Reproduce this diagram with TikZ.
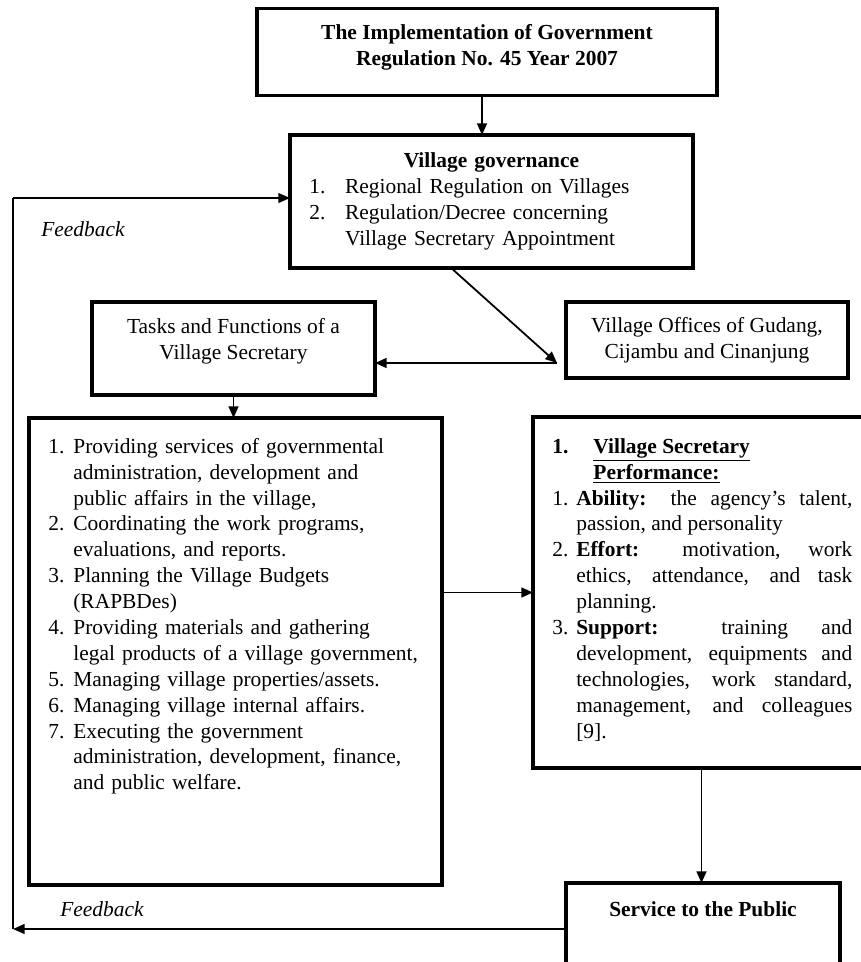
\documentclass[tikz,border=0pt,12pt]{standalone}
\usepackage{fontspec}
\setmainfont{Liberation Serif}
\usetikzlibrary{arrows.meta, calc}

\newcommand{\listitem}[3]{\par\noindent\hangindent=#1\hangafter=1\makebox[#1][l]{#2}#3}

\begin{document}
\begin{tikzpicture}[
  x=0.56pt, y=-0.56pt,
  box/.style={draw, line width=2pt, inner sep=0pt, outer sep=0pt, align=center},
  listtext/.style={anchor=north west, inner sep=0pt, text width=#1},
  arr/.style={-{Triangle[length=6.5pt, width=5.5pt]}, line width=1pt},
  fbline/.style={line width=0.7pt},
  fblabel/.style={font=\itshape}
]
\useasboundingbox (0,0) rectangle (861,962);
\clip (0,0) rectangle (861,962);
\node[box, minimum width=257.6pt, minimum height=48.7pt, font=\bfseries] (impl) at (487,52) {};
\node[font=\bfseries, align=center] (impltext) at (487,47)
  {The Implementation of Government\\Regulation No. 45 Year 2007};
\node[box, minimum width=225.7pt, minimum height=74.5pt, text width=204pt, align=left] (gov) at (491.5,201.5)
  {{\centering\bfseries Village governance\par}%
   \listitem{20pt}{1.}{Regional Regulation on Villages}%
   \listitem{20pt}{2.}{Regulation/Decree concerning\newline Village Secretary Appointment}\par};
\node[box, minimum width=158.5pt, minimum height=52.1pt] (tasks) at (233.5,348.5) {};
\node[align=center] (taskstext) at (233.5,341)
  {Tasks and Functions of a\\Village Secretary};
\node[box, minimum width=157.9pt, minimum height=42.6pt] (offices) at (707,340)
  {Village Offices of Gudang,\\Cijambu and Cinanjung};
\node[box, minimum width=231.3pt, minimum height=261.5pt] (duties) at (235.5,651.5) {};
\node[listtext=215pt, align=left] (dutiestext) at (48,427)
  {\listitem{14pt}{1.}{Providing services of governmental\newline administration, development and\newline public affairs in the village,}%
   \listitem{14pt}{2.}{Coordinating the work programs,\newline evaluations, and reports.}%
   \listitem{14pt}{3.}{Planning the Village Budgets\newline (RAPBDes)}%
   \listitem{14pt}{4.}{Providing materials and gathering\newline legal products of a village government,}%
   \listitem{14pt}{5.}{Managing village properties/assets.}%
   \listitem{14pt}{6.}{Managing village internal affairs.}%
   \listitem{14pt}{7.}{Executing the government\newline administration, development, finance,\newline and public welfare.}\par};
\node[box, minimum width=188.7pt, minimum height=196.6pt] (perf) at (701.5,592.5) {};
\node[listtext=168pt, align=justify] (perftext) at (552,427)
  {{\bfseries\listitem{23pt}{1.}{\underline{Village Secretary}\newline\underline{Performance:}}\par}%
   \listitem{13.4pt}{1.}{\textbf{Ability:} the agency's talent,\linebreak passion, and personality}%
   \listitem{13.4pt}{2.}{\textbf{Effort:} motivation, work\linebreak ethics, attendance, and task\linebreak planning.}%
   \listitem{13.4pt}{3.}{\textbf{Support:} training and\linebreak development, equipments and\linebreak technologies, work standard,\linebreak management, and colleagues\linebreak{}[9].}\par};
\node[box, minimum width=153.4pt, minimum height=51.5pt] (service) at (703,929) {};
\node[font=\bfseries] (servicetext) at (703,909) {Service to the Public};
\node[fblabel] (fbtoplabel) at (83,229) {Feedback};
\node[fblabel] (fbbotlabel) at (102,909) {Feedback};
\coordinate (fbcorner) at (13,929);
\coordinate (fbtop) at (13,198);
\coordinate (offtip) at (557,363);
\draw[arr] ([xshift=-2.8pt]impl.south) -- ([xshift=-2.8pt]impl.south |- gov.north);
\draw[arr] ($(gov.south west)!0.4!(gov.south east)$) -- (offtip);
\draw[arr] (offtip) -- (offtip -| tasks.east);
\draw[arr] (tasks.south) -- (tasks.south |- duties.north);
\draw[arr] (duties.east |- perf.west) -- (perf.west);
\draw[arr] (perf.south) -- (perf.south |- service.north);
\draw[arr] (service.west) -- (fbcorner);
\draw[fbline] (fbcorner) -- (fbtop);
\draw[arr, fbline] (fbtop) -- (fbtop -| gov.west);
\end{tikzpicture}
\end{document}
